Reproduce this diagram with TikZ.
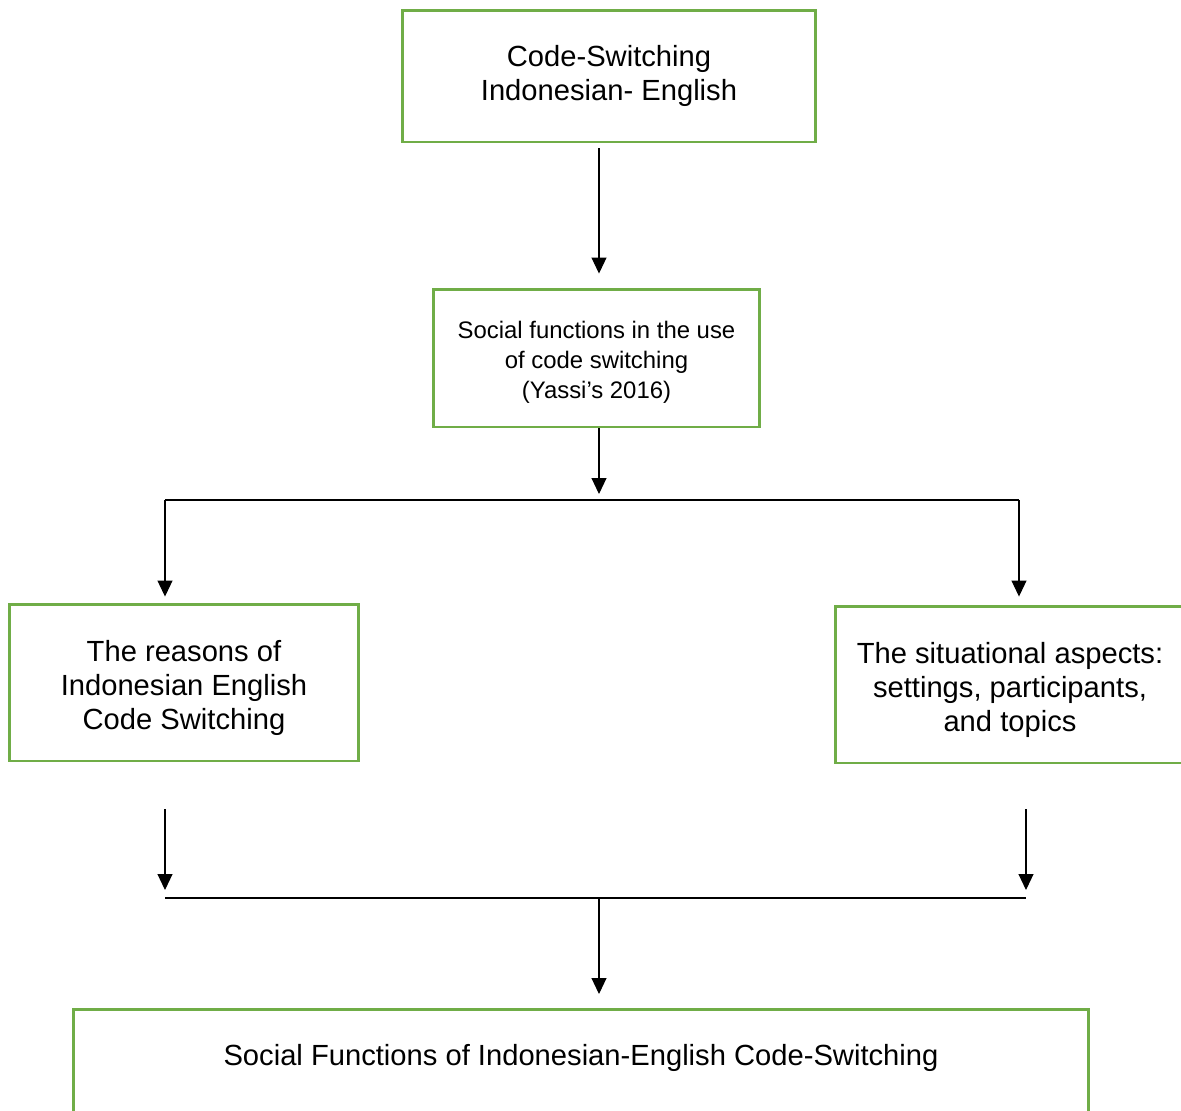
\documentclass[tikz,border=0pt]{standalone}
\usepackage{fontspec}
\setmainfont{Liberation Sans}
\usetikzlibrary{arrows.meta}
\definecolor{boxgreen}{RGB}{112,173,71}

\begin{document}
\begin{tikzpicture}[
		x=0.02cm, y=-0.02cm,
		box/.style={rectangle, draw=boxgreen, line width=1.7pt, align=center, inner sep=0pt},
		big/.style={font=\fontsize{16.6}{19.6}\selectfont},
		small/.style={font=\fontsize{13.6}{17}\selectfont},
		arrow/.style={-{Triangle[length=0.32cm, width=0.3cm]}, line width=0.6pt}
	]
  \clip (0,0) rectangle (1181,1110);
  \node (codesw) [box, big, minimum width=8.28cm, minimum height=2.64cm] at (609,76) {Code-Switching\\Indonesian- English};
  \node (social) [box, small, minimum width=6.54cm, minimum height=2.76cm, text height=1.7cm] at (596.5,358) {Social functions in the use\\of code switching\\(Yassi’s 2016)};
  \node (reasons) [box, big, minimum width=7cm, minimum height=3.14cm, text height=2.02cm] at (184,682.5) {The reasons of\\Indonesian English\\Code Switching};
  \node (aspects) [box, big, minimum width=7cm, minimum height=3.14cm, text height=2.02cm] at (1010,684.5) {The situational aspects:\\settings, participants,\\and topics};
  \node (result) [box, big, minimum width=20.32cm, anchor=north, text height=1.12cm, text depth=1.6cm] at (581,1008) {Social Functions of Indonesian-English Code-Switching};
  \coordinate (fork) at (599,500);
  \coordinate (forkL) at (165,500);
  \coordinate (forkR) at (1019,500);
  \coordinate (join) at (599,898);
  \coordinate (joinL) at (165,898);
  \coordinate (joinR) at (1026,898);
  \draw [arrow, shorten <=0.1cm, shorten >=0.28cm] (codesw.south -| fork) -- (social.north -| fork);
  \draw [arrow, shorten >=0.12cm] (social.south -| fork) -- (fork);
  \draw [line width=0.6pt] (forkL) -- (forkR);
  \draw [arrow, shorten >=0.12cm] (forkL) -- (reasons.north -| forkL);
  \draw [arrow, shorten >=0.16cm] (forkR) -- (aspects.north -| forkR);
  \draw [arrow, shorten <=0.94cm, shorten >=0.16cm] (reasons.south -| joinL) -- (joinL);
  \draw [arrow, shorten <=0.9cm, shorten >=0.16cm] (aspects.south -| joinR) -- (joinR);
  \draw [line width=0.6pt] (joinL) -- (joinR);
  \draw [arrow, shorten >=0.28cm] (join) -- (result.north -| join);
\end{tikzpicture}
\end{document}
